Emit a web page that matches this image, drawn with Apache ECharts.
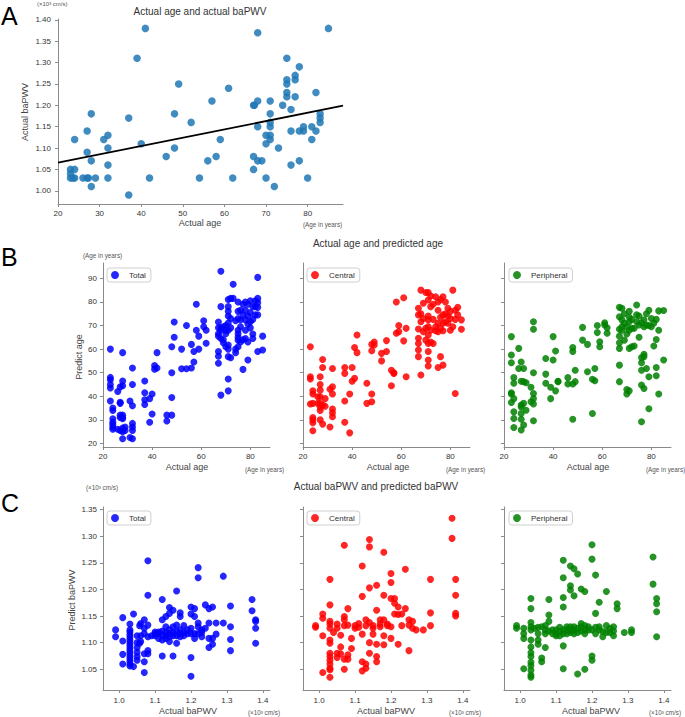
<!DOCTYPE html>
<html><head><meta charset="utf-8">
<script src="https://cdn.jsdelivr.net/npm/echarts@6/dist/echarts.min.js"></script>
<style>html,body{margin:0;padding:0;background:#fff}#c{width:685px;height:717px}</style>
</head><body><div id="c"></div>
<script>
// ---------- Panel A: actual age vs actual baPWV ----------
const aAge = [23,23,23,24,24,24,23.6,26,27,27.3,27,27,28,28,28,29,31,32,32,32,32,37,37,39,40,41,42,46,48,48,49,52,54,56,57,58,59,61,62,67,67.2,67,67,68,68,68,68,69,70,70,70,71,71,71,71,71,71,72,73,74,75,75,75,75,75,76,76,76,77,77,77,78,78,78,79,79,80,81,81,82,82,83,83,83,85];
const aPwv = [1.05,1.04,1.03,1.12,1.05,1.03,1.03,1.03,1.03,1.03,1.14,1.09,1.18,1.07,1.01,1.03,1.12,1.13,1.10,1.06,1.03,1.17,0.99,1.31,1.11,1.38,1.03,1.08,1.18,1.10,1.25,1.16,1.03,1.07,1.21,1.08,1.12,1.24,1.03,1.20,1.20,1.08,1.05,1.37,1.21,1.15,1.07,1.07,1.13,1.11,1.03,1.21,1.18,1.16,1.15,1.13,1.12,1.01,1.10,1.20,1.31,1.26,1.25,1.23,1.22,1.19,1.14,1.06,1.27,1.26,1.22,1.29,1.14,1.07,1.15,1.14,1.03,1.15,1.12,1.23,1.14,1.18,1.17,1.16,1.38];
// regression line end points
const aRegAge = [20, 88.5];
const aRegPwv = [1.066, 1.199];

// ---------- Panel B: actual age vs predicted age ----------
const bTotal = [[23,60],[23,48],[23,47],[23,45],[23,43.5],[23,38],[24,35],[24,34],[24,30.5],[24,29],[24,28],[24,27],[24,26],[26,42],[26,26],[27,44],[27,37.5],[27,37],[27,32],[27,31],[27,25.5],[28,58.5],[28,46.5],[28,44.5],[28,32],[28,31],[28,30.5],[28,26.5],[28,25],[28,22],[29,27],[29,25.5],[31,38],[31,22.5],[32,52],[32,45],[32,36],[32,28.5],[32,27],[32,25.5],[32,22],[37,46.5],[37,41.5],[37,38.5],[37,36.5],[39,39],[39,29],[40,41],[40,32.5],[41,53],[41,51.5],[42,58.5],[42,52],[46,32],[46,29.5],[48,61],[48,50],[48,39.5],[48,32],[49,71.5],[49,65],[52,60],[52,51.7],[54,70],[54,51.7],[56,62],[56,52],[57,59],[57,54.5],[58,79],[58,68],[59,65.5],[59,60],[61,72],[61,69.5],[62,68],[62,62.5],[67,71.5],[67,69],[67,66.5],[67,65.5],[67,59],[67,57],[67,54],[68,93],[68,78],[68,69],[68,68],[68,64.5],[68,40.5],[69,69.5],[69,64],[69,62.7],[70,70],[70,68],[70,66.5],[70,61],[71,81],[71,78],[71,76],[71,74],[71,71],[71,68],[71,61.7],[71,60],[71,56.8],[71,47.3],[71,42.3],[72,81.5],[72,73],[72,69],[72,56.3],[73,87.5],[73,81.5],[74,72],[74,60],[74,58.5],[75,80],[75,76],[75,73],[75,68],[75,66.5],[75,65],[75,63.8],[75,61],[76,76.5],[76,72.4],[76,69.5],[76,63],[77,79],[77,74.5],[77,64],[77,51.4],[78,80],[78,76.5],[78,72.4],[78,68],[78,64.5],[79,79],[79,74],[79,70.6],[79,63],[79,55.4],[80,80.5],[80,75.5],[80,71.6],[80,69],[81,78],[81,72.6],[81,66.4],[81,64.5],[82,80.5],[82,78],[82,74.5],[83,90.4],[83,81.5],[83,79.7],[83,77.7],[83,74.5],[83,59],[85,65.5],[85,59.6]];
const bCentral = [[23,61],[23,48.3],[23,47.3],[23,36.7],[24,42.3],[24,41],[24,37],[24,31],[24,30],[24,28.8],[24,25.4],[26,39.8],[26,37],[27,48.3],[27,45],[27,42.6],[27,39.8],[27,37],[27,35.5],[27,34],[27,30],[28,55.6],[28,52.2],[28,36.3],[28,28.2],[29,39],[29,35.8],[31,43],[31,27],[32,51.8],[32,44],[32,41],[32,34.6],[32,33],[32,31.3],[37,52.2],[37,49.7],[37,38],[37,29],[39,41],[39,24.5],[40,52.2],[40,46.4],[41,60.7],[41,47.6],[42,66],[42,58.5],[46,45.5],[46,37],[48,62],[48,59.3],[48,41],[48,37.7],[49,63],[49,61.7],[52,58.2],[52,55],[54,63.6],[54,59],[56,51],[56,44.5],[57,50],[57,49.7],[58,80],[58,66.7],[59,70],[59,67.4],[61,81.8],[61,63.5],[62,68.8],[62,48.3],[67,77.3],[67,74.5],[67,68.5],[67,64.6],[67,62.4],[67,59.6],[67,56.8],[68,85],[68,75],[68,71.6],[68,49],[69,79.4],[69,73],[69,67.4],[70,84],[70,68.8],[70,63.8],[71,84],[71,80.8],[71,74],[71,72.4],[71,69.5],[71,66],[71,62.4],[71,59],[71,55.4],[71,52.8],[72,82.5],[72,78],[72,68],[72,63],[73,79],[73,72.6],[73,62.4],[74,82.2],[74,69.5],[74,67.8],[75,80],[75,76.5],[75,71],[75,67.4],[75,52.2],[76,81],[76,73.5],[76,68.8],[76,56.8],[77,82.2],[77,74.5],[77,71],[77,67.8],[77,53.2],[78,80],[78,75],[78,71.6],[79,77.3],[79,74],[79,71],[80,76],[80,73],[80,68],[81,85],[81,69.5],[82,76.5],[82,72.6],[82,41.2],[83,77.7],[83,74.5],[84.5,72.4],[84.5,68.4]];
const bPeripheral = [[23,65.3],[23,57.5],[23,54.2],[23,41.5],[23,41],[23,37.4],[24,47.9],[24,45.5],[24,39],[24,33.4],[24,30.6],[24,26.8],[26,60.3],[26,51.8],[27,54.5],[27,46.4],[27,36.3],[27,35.5],[27,32.7],[27,30.3],[27,25.7],[28,51.8],[28,46.2],[28,37],[28,27.8],[29,45.7],[29,34.1],[31,43.8],[31,37.7],[32,71.6],[32,68.4],[32,50],[32,41.2],[32,39],[32,36.7],[32,29.6],[37,56],[37,49.4],[37,45.5],[39,43.8],[39,39],[40,65.3],[40,55.4],[41,59.2],[41,42.3],[42,46.4],[42,46.2],[46,47.9],[46,45.2],[48,60.7],[48,59],[48,45.2],[48,30.3],[49,51],[49,46.2],[52,69.2],[52,63.8],[54,62],[54,50.4],[56,47.2],[56,32.7],[57,51.8],[57,46.6],[58,70],[58,67],[59,63.1],[59,61],[61,71.2],[61,70.2],[62,69],[62,66.7],[67,77.7],[67,73.7],[67,68.4],[67,65.5],[67,62.7],[67,60.3],[67,53.2],[67,46.2],[68,77.3],[68,72.4],[68,69.5],[68,68],[69,75],[69,71],[69,63.8],[70,69.5],[70,66.4],[70,42.9],[70,41],[71,76],[71,73.5],[71,71.6],[71,68],[71,60.3],[71,42.3],[72,72.6],[72,68.8],[72,61],[73,68.8],[73,61.3],[74,78.7],[74,74.5],[74,71.6],[75,74],[75,70.2],[75,65],[76,71.2],[76,56.4],[76,54.2],[76,51],[76,44.8],[76,29.2],[77,72.4],[77,69.5],[77,57.8],[77,56.8],[77,43.3],[78,75],[78,70.2],[78,51.8],[79,76.5],[79,70],[79,48.3],[79,34.7],[80,73],[80,69.5],[81,71],[81,61.3],[82,72.6],[82,64.1],[82,52.2],[82,48.7],[83,76.2],[83,68],[83,41],[85,76.4],[85,55.4]];

// ---------- Panel C: actual baPWV vs predicted baPWV ----------
const cTotal = [[0.99,1.124],[0.99,1.111],[1.01,1.147],[1.01,1.103],[1.01,1.078],[1.01,1.06],[1.03,1.135],[1.03,1.124],[1.03,1.12],[1.03,1.115],[1.03,1.11],[1.03,1.105],[1.03,1.10],[1.03,1.095],[1.03,1.09],[1.03,1.085],[1.03,1.08],[1.03,1.075],[1.03,1.07],[1.03,1.065],[1.03,1.06],[1.03,1.056],[1.04,1.154],[1.04,1.055],[1.05,1.113],[1.05,1.10],[1.05,1.091],[1.05,1.082],[1.05,1.074],[1.05,1.067],[1.057,1.132],[1.057,1.099],[1.06,1.136],[1.06,1.113],[1.06,1.102],[1.07,1.143],[1.07,1.127],[1.07,1.117],[1.07,1.079],[1.07,1.064],[1.07,1.044],[1.08,1.254],[1.08,1.189],[1.08,1.133],[1.08,1.111],[1.08,1.085],[1.08,1.079],[1.09,1.113],[1.10,1.12],[1.10,1.117],[1.10,1.113],[1.11,1.12],[1.11,1.117],[1.11,1.108],[1.12,1.181],[1.12,1.143],[1.12,1.122],[1.12,1.114],[1.12,1.105],[1.12,1.075],[1.13,1.149],[1.13,1.13],[1.13,1.119],[1.13,1.113],[1.13,1.108],[1.14,1.166],[1.14,1.155],[1.14,1.124],[1.14,1.117],[1.14,1.111],[1.14,1.102],[1.15,1.161],[1.15,1.13],[1.15,1.119],[1.15,1.113],[1.15,1.075],[1.16,1.197],[1.16,1.133],[1.16,1.121],[1.16,1.113],[1.16,1.099],[1.17,1.156],[1.17,1.149],[1.17,1.124],[1.17,1.117],[1.17,1.111],[1.18,1.132],[1.18,1.119],[1.18,1.113],[1.19,1.124],[1.19,1.117],[1.20,1.167],[1.20,1.154],[1.20,1.127],[1.20,1.117],[1.20,1.072],[1.20,1.037],[1.21,1.164],[1.21,1.149],[1.21,1.117],[1.21,1.108],[1.22,1.241],[1.22,1.222],[1.22,1.137],[1.22,1.13],[1.22,1.117],[1.23,1.124],[1.23,1.119],[1.23,1.111],[1.24,1.171],[1.24,1.127],[1.25,1.164],[1.25,1.137],[1.25,1.108],[1.25,1.091],[1.26,1.167],[1.26,1.108],[1.26,1.097],[1.27,1.137],[1.27,1.116],[1.29,1.225],[1.29,1.137],[1.31,1.169],[1.31,1.13],[1.31,1.106],[1.31,1.085],[1.37,1.181],[1.37,1.16],[1.38,1.143],[1.38,1.14],[1.38,1.127],[1.38,1.099]];
const cCentral = [[0.99,1.132],[0.99,1.129],[1.01,1.154],[1.01,1.146],[1.01,1.113],[1.01,1.044],[1.03,1.219],[1.03,1.171],[1.03,1.14],[1.03,1.135],[1.03,1.127],[1.03,1.105],[1.03,1.099],[1.03,1.08],[1.03,1.074],[1.03,1.067],[1.03,1.06],[1.03,1.052],[1.03,1.049],[1.03,1.035],[1.04,1.119],[1.05,1.135],[1.05,1.127],[1.05,1.08],[1.05,1.072],[1.06,1.114],[1.06,1.092],[1.06,1.079],[1.07,1.283],[1.07,1.149],[1.07,1.143],[1.07,1.132],[1.07,1.069],[1.07,1.05],[1.08,1.164],[1.08,1.133],[1.08,1.077],[1.08,1.069],[1.09,1.108],[1.09,1.089],[1.10,1.132],[1.10,1.127],[1.11,1.136],[1.11,1.129],[1.12,1.244],[1.12,1.187],[1.12,1.116],[1.12,1.064],[1.12,1.047],[1.13,1.143],[1.13,1.132],[1.13,1.06],[1.13,1.052],[1.14,1.294],[1.14,1.28],[1.14,1.203],[1.14,1.138],[1.14,1.1],[1.14,1.08],[1.15,1.132],[1.15,1.127],[1.15,1.116],[1.16,1.208],[1.16,1.161],[1.16,1.097],[1.16,1.074],[1.16,1.064],[1.17,1.143],[1.17,1.135],[1.17,1.13],[1.18,1.27],[1.18,1.189],[1.18,1.143],[1.18,1.113],[1.18,1.096],[1.19,1.135],[1.19,1.132],[1.20,1.23],[1.20,1.213],[1.20,1.183],[1.20,1.13],[1.20,1.108],[1.21,1.183],[1.21,1.174],[1.21,1.154],[1.22,1.167],[1.22,1.153],[1.22,1.097],[1.23,1.154],[1.23,1.132],[1.24,1.238],[1.24,1.164],[1.25,1.143],[1.25,1.133],[1.25,1.085],[1.26,1.14],[1.26,1.127],[1.27,1.124],[1.29,1.124],[1.31,1.219],[1.31,1.156],[1.31,1.132],[1.37,1.334],[1.37,1.296],[1.38,1.219],[1.38,1.189],[1.38,1.155],[1.38,1.15]];
const cPeripheral = [[0.99,1.132],[0.99,1.127],[1.01,1.127],[1.01,1.117],[1.01,1.108],[1.01,1.051],[1.03,1.183],[1.03,1.164],[1.03,1.138],[1.03,1.13],[1.03,1.124],[1.03,1.105],[1.03,1.092],[1.03,1.081],[1.03,1.074],[1.03,1.063],[1.03,1.057],[1.03,1.048],[1.03,1.039],[1.03,1.035],[1.04,1.127],[1.05,1.129],[1.05,1.117],[1.05,1.105],[1.05,1.097],[1.06,1.13],[1.06,1.071],[1.06,1.064],[1.07,1.132],[1.07,1.124],[1.07,1.117],[1.07,1.091],[1.08,1.181],[1.08,1.152],[1.08,1.14],[1.08,1.122],[1.09,1.124],[1.09,1.117],[1.10,1.124],[1.10,1.117],[1.10,1.113],[1.11,1.129],[1.11,1.121],[1.11,1.113],[1.12,1.255],[1.12,1.222],[1.12,1.185],[1.12,1.167],[1.12,1.124],[1.12,1.117],[1.12,1.094],[1.12,1.051],[1.13,1.13],[1.13,1.124],[1.13,1.117],[1.14,1.244],[1.14,1.207],[1.14,1.199],[1.14,1.13],[1.14,1.124],[1.14,1.119],[1.15,1.239],[1.15,1.188],[1.15,1.13],[1.15,1.124],[1.15,1.117],[1.16,1.229],[1.16,1.127],[1.16,1.119],[1.16,1.041],[1.17,1.201],[1.17,1.136],[1.17,1.13],[1.17,1.122],[1.18,1.196],[1.18,1.132],[1.18,1.124],[1.18,1.117],[1.18,1.05],[1.19,1.13],[1.19,1.124],[1.20,1.284],[1.20,1.257],[1.20,1.124],[1.20,1.075],[1.20,1.067],[1.21,1.227],[1.21,1.155],[1.21,1.129],[1.21,1.117],[1.22,1.176],[1.22,1.13],[1.22,1.124],[1.23,1.121],[1.23,1.111],[1.24,1.196],[1.24,1.132],[1.24,1.119],[1.25,1.127],[1.25,1.119],[1.26,1.13],[1.26,1.122],[1.26,1.113],[1.27,1.173],[1.27,1.164],[1.29,1.119],[1.31,1.124],[1.31,1.119],[1.37,1.261],[1.37,1.21],[1.38,1.183],[1.38,1.173],[1.38,1.158],[1.38,1.111]];

// ---------- tick labels ----------
const aXTicks = [20,30,40,50,60,70,80];
const aYTicks = [1.00,1.05,1.10,1.15,1.20,1.25,1.30,1.35,1.40];
const bXTicks = [20,40,60,80];
const bYTicks = [20,30,40,50,60,70,80,90];
const cXTicks = [1.0,1.1,1.2,1.3,1.4];
const cYTicks = [1.05,1.10,1.15,1.20,1.25,1.30,1.35];

const FF = "'Liberation Sans', Arial, sans-serif";
const AX = '#8a8a8a';
const zip = (xs, ys) => xs.map((x, i) => [x, ys[i]]);

function axis(grid, min, max, ticks, showLabel, dec, margin) {
  return {
    type: 'value', gridIndex: grid, min: min, max: max,
    axisLine: {show: true, onZero: false, lineStyle: {color: AX, width: 1}},
    axisTick: {show: true, length: 3, lineStyle: {color: AX}, customValues: ticks},
    axisLabel: {show: showLabel, customValues: ticks, fontSize: 8, color: '#333', fontFamily: FF, margin: margin,
      formatter: v => dec == null ? String(v) : Number(v).toFixed(dec)},
    splitLine: {show: false}
  };
}
function txt(text, x, y, size, o) {
  o = o || {};
  return {type: 'text', x: x, y: y, rotation: o.rot || 0, silent: true, z: 100,
    style: {text: text, fontSize: size, fontFamily: FF, fill: o.color || '#333',
      align: o.align || 'center', verticalAlign: o.va || 'middle'}};
}
function legend(name, left, top) {
  return {data: [name], left: left, top: top, itemWidth: 18, itemHeight: 8, padding: [3, 5, 3, 4],
    borderColor: '#cfcfcf', borderWidth: 1, borderRadius: 3, backgroundColor: 'rgba(255,255,255,0.8)',
    textStyle: {fontSize: 8, color: '#333', fontFamily: FF}, icon: 'circle', selectedMode: false};
}
function scatter(name, data, gi, color, size) {
  return {type: 'scatter', name: name, data: data, xAxisIndex: gi, yAxisIndex: gi, symbol: 'circle',
    symbolSize: size, itemStyle: {color: color, opacity: 0.85}, silent: true};
}

const lefts = [103, 303, 504];
const grids = [{left: 58, top: 19, width: 285, height: 185}];
lefts.forEach(l => grids.push({left: l, top: 263, width: 167, height: 184}));
lefts.forEach(l => grids.push({left: l, top: 507, width: 167, height: 183}));

const xAxes = [axis(0, 20, 88.5, aXTicks, true, null, 5)];
const yAxes = [axis(0, 0.969, 1.402, aYTicks, true, 2, 7)];
for (let i = 0; i < 3; i++) {
  xAxes.push(axis(1 + i, 20, 88, bXTicks, true, null, 5));
  yAxes.push(axis(1 + i, 18.5, 96.5, bYTicks, i === 0, null, 6));
}
for (let i = 0; i < 3; i++) {
  xAxes.push(axis(4 + i, 0.955, 1.42, cXTicks, true, 1, 6));
  yAxes.push(axis(4 + i, 1.011, 1.355, cYTicks, i === 0, 2, 6));
}

const blue = '#0000ff', red = '#ff0000', green = '#008000';
const series = [
  scatter('Actual', zip(aAge, aPwv), 0, '#1f77b4', 7.5),
  {type: 'line', data: zip(aRegAge, aRegPwv), xAxisIndex: 0, yAxisIndex: 0, symbol: 'none', z: 5,
    lineStyle: {color: '#000', width: 1.8}, silent: true},
  scatter('Total', bTotal, 1, blue, 7),
  scatter('Central', bCentral, 2, red, 7),
  scatter('Peripheral', bPeripheral, 3, green, 7),
  scatter('Total', cTotal, 4, blue, 7),
  scatter('Central', cCentral, 5, red, 7),
  scatter('Peripheral', cPeripheral, 6, green, 7)
];

const unit = '(\u00d710\u00b3 cm/s)';
const elements = [
  txt('A', 1, 16, 25, {align: 'left', color: '#000'}),
  txt('B', 1, 257, 25, {align: 'left', color: '#000'}),
  txt('C', 1, 503, 25, {align: 'left', color: '#000'}),
  txt('Actual age and actual baPWV', 200, 11, 10),
  txt('Actual age and predicted age', 378, 243, 10),
  txt('Actual baPWV and predicted baPWV', 376, 486, 10),
  txt(unit, 37, 4, 6, {align: 'left', color: '#555'}),
  txt('Actual age', 200, 223, 9, {color: '#444'}),
  txt('(Age in years)', 303, 224, 6.3, {align: 'left', color: '#555'}),
  txt('Actual baPWV', 25, 112, 9, {rot: Math.PI / 2, color: '#444'}),
  txt('(Age in years)', 83, 255, 6.3, {align: 'left', color: '#555'}),
  txt('Predict age', 79, 357, 9, {rot: Math.PI / 2, color: '#444'}),
  txt(unit, 86, 487, 6.3, {align: 'left', color: '#555'}),
  txt('Predict baPWV', 72, 600, 9, {rot: Math.PI / 2, color: '#444'})
];
[187, 388, 588].forEach(cx => elements.push(txt('Actual age', cx, 467, 9, {color: '#444'})));
[245, 446, 646].forEach(lx => elements.push(txt('(Age in years)', lx, 469, 6.3, {align: 'left', color: '#555'})));
[188, 386, 591].forEach(cx => elements.push(txt('Actual baPWV', cx, 711, 9, {color: '#444'})));
[248, 449, 649].forEach(lx => elements.push(txt(unit, lx, 712, 6.3, {align: 'left', color: '#555'})));

const chart = echarts.init(document.getElementById('c'), null, {renderer: 'svg', width: 685, height: 717});
chart.setOption({
  backgroundColor: '#ffffff',
  animation: false,
  grid: grids,
  xAxis: xAxes,
  yAxis: yAxes,
  legend: [
    legend('Total', 107, 268), legend('Central', 307, 268), legend('Peripheral', 509, 268),
    legend('Total', 107, 511), legend('Central', 307, 511), legend('Peripheral', 509, 511)
  ],
  series: series,
  graphic: {elements: elements}
});
</script></body></html>
